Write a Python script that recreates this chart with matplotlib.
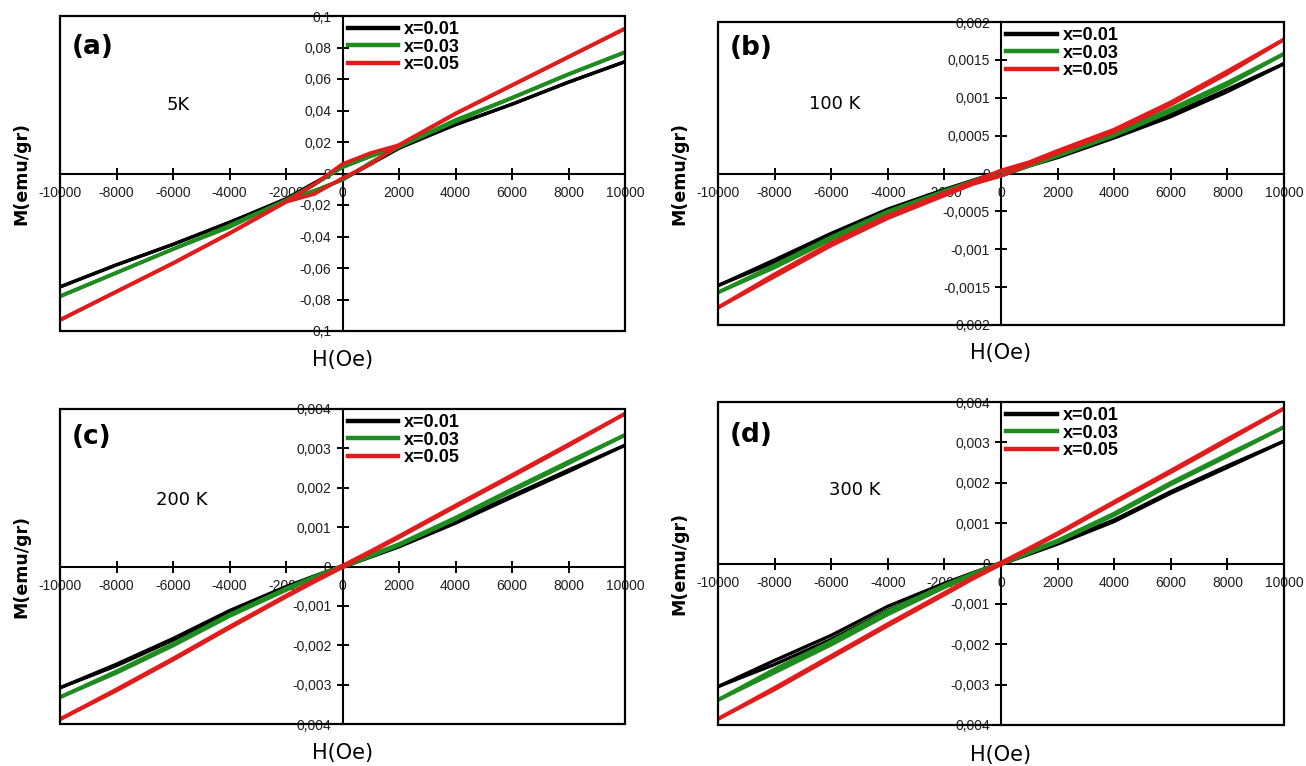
import matplotlib
matplotlib.use("Agg")
import matplotlib.pyplot as plt
from matplotlib.patches import Rectangle
from matplotlib.lines import Line2D

plt.rcParams['font.family'] = ['DejaVu Sans']

# ---------------- data ----------------
H = [-10000, -8000, -6000, -4000, -2000, -1000, 0, 1000, 2000, 4000, 6000, 8000, 10000]
series_labels = ["x=0.01", "x=0.03", "x=0.05"]
series_colors = ["#000000", "#1e8c1e", "#e01c1c"]
panel_letters = ["(a)", "(b)", "(c)", "(d)"]
panel_temps = ["5K", "100 K", "200 K", "300 K"]
x_ticks = [-10000, -8000, -6000, -4000, -2000, 0, 2000, 4000, 6000, 8000, 10000]
x_ticklabels = ["-10000", "-8000", "-6000", "-4000", "-2000", "0", "2000", "4000", "6000", "8000", "10000"]

# panel (a) 5 K : upper (descending field) and lower (ascending field) branches
a_black_up = [-0.072, -0.058, -0.045, -0.031, -0.016, -0.006, 0.004, 0.011, 0.017, 0.031, 0.044, 0.058, 0.071]
a_black_lo = [-0.072, -0.058, -0.045, -0.031, -0.017, -0.011, -0.004, 0.006, 0.016, 0.031, 0.044, 0.058, 0.071]
a_green_up = [-0.078, -0.063, -0.048, -0.033, -0.017, -0.007, 0.004, 0.011, 0.017, 0.034, 0.048, 0.063, 0.077]
a_green_lo = [-0.078, -0.063, -0.048, -0.034, -0.017, -0.011, -0.004, 0.007, 0.017, 0.033, 0.048, 0.063, 0.077]
a_red_up = [-0.093, -0.075, -0.057, -0.038, -0.018, -0.007, 0.006, 0.013, 0.018, 0.038, 0.056, 0.074, 0.092]
a_red_lo = [-0.093, -0.075, -0.057, -0.038, -0.018, -0.013, -0.003, 0.006, 0.018, 0.038, 0.056, 0.074, 0.092]

# panel (b) 100 K
b_black_up = [-0.00148, -0.00114, -0.00079, -0.00047, -0.00021, -0.00009, 0.00003, 0.00012, 0.00024, 0.00050, 0.00078, 0.00111, 0.00145]
b_black_lo = [-0.00148, -0.00117, -0.00082, -0.00050, -0.00024, -0.00012, -0.00003, 0.00010, 0.00021, 0.00047, 0.00075, 0.00108, 0.00145]
b_green_up = [-0.00157, -0.00121, -0.00084, -0.00050, -0.00023, -0.00010, 0.00003, 0.00013, 0.00026, 0.00053, 0.00085, 0.00120, 0.00158]
b_green_lo = [-0.00157, -0.00124, -0.00087, -0.00053, -0.00026, -0.00013, -0.00003, 0.00010, 0.00023, 0.00050, 0.00082, 0.00117, 0.00158]
b_red_up = [-0.00177, -0.00133, -0.00092, -0.00056, -0.00026, -0.00011, 0.00004, 0.00015, 0.00030, 0.00058, 0.00094, 0.00135, 0.00177]
b_red_lo = [-0.00177, -0.00136, -0.00095, -0.00059, -0.00029, -0.00014, -0.00003, 0.00012, 0.00027, 0.00055, 0.00091, 0.00132, 0.00177]

# panel (c) 200 K
c_black_up = [-0.00308, -0.00248, -0.00183, -0.00112, -0.00051, -0.00024, 0.00002, 0.00027, 0.00053, 0.00114, 0.00180, 0.00245, 0.00308]
c_black_lo = [-0.00308, -0.00252, -0.00187, -0.00116, -0.00055, -0.00027, -0.00002, 0.00024, 0.00050, 0.00110, 0.00176, 0.00241, 0.00308]
c_green_up = [-0.00332, -0.00266, -0.00197, -0.00122, -0.00056, -0.00026, 0.00002, 0.00029, 0.00057, 0.00124, 0.00196, 0.00266, 0.00334]
c_green_lo = [-0.00332, -0.00270, -0.00201, -0.00126, -0.00060, -0.00029, -0.00002, 0.00026, 0.00054, 0.00120, 0.00192, 0.00262, 0.00334]
c_red_up = [-0.00388, -0.00312, -0.00234, -0.00153, -0.00074, -0.00036, 0.00002, 0.00039, 0.00077, 0.00155, 0.00232, 0.00310, 0.00388]
c_red_lo = [-0.00388, -0.00315, -0.00237, -0.00156, -0.00077, -0.00039, -0.00002, 0.00036, 0.00074, 0.00152, 0.00229, 0.00307, 0.00388]

# panel (d) 300 K
d_black_up = [-0.00305, -0.00240, -0.00178, -0.00106, -0.00049, -0.00023, 0.00002, 0.00026, 0.00051, 0.00108, 0.00178, 0.00242, 0.00303]
d_black_lo = [-0.00305, -0.00250, -0.00188, -0.00116, -0.00055, -0.00027, -0.00002, 0.00023, 0.00048, 0.00104, 0.00174, 0.00238, 0.00303]
d_green_up = [-0.00338, -0.00262, -0.00193, -0.00118, -0.00054, -0.00025, 0.00002, 0.00029, 0.00057, 0.00124, 0.00200, 0.00270, 0.00338]
d_green_lo = [-0.00338, -0.00270, -0.00201, -0.00126, -0.00059, -0.00029, -0.00002, 0.00026, 0.00054, 0.00120, 0.00196, 0.00266, 0.00338]
d_red_up = [-0.00385, -0.00308, -0.00229, -0.00150, -0.00073, -0.00035, 0.00002, 0.00038, 0.00075, 0.00153, 0.00230, 0.00308, 0.00384]
d_red_lo = [-0.00385, -0.00312, -0.00233, -0.00154, -0.00077, -0.00038, -0.00002, 0.00035, 0.00072, 0.00150, 0.00226, 0.00304, 0.00384]

y_limits = [0.1, 0.002, 0.004, 0.004]
a_yticks = [0.1, 0.08, 0.06, 0.04, 0.02, 0, -0.02, -0.04, -0.06, -0.08, -0.1]
a_yticklabels = ["0,1", "0,08", "0,06", "0,04", "0,02", "0", "-0,02", "-0,04", "-0,06", "-0,08", "0,1"]
b_yticks = [0.002, 0.0015, 0.001, 0.0005, 0, -0.0005, -0.001, -0.0015, -0.002]
b_yticklabels = ["0,002", "0,0015", "0,001", "0,0005", "0", "-0,0005", "-0,001", "-0,0015", "0,002"]
cd_yticks = [0.004, 0.003, 0.002, 0.001, 0, -0.001, -0.002, -0.003, -0.004]
cd_yticklabels = ["0,004", "0,003", "0,002", "0,001", "0", "-0,001", "-0,002", "-0,003", "0,004"]

panel_data = [
    [(a_black_up, a_black_lo), (a_green_up, a_green_lo), (a_red_up, a_red_lo)],
    [(b_black_up, b_black_lo), (b_green_up, b_green_lo), (b_red_up, b_red_lo)],
    [(c_black_up, c_black_lo), (c_green_up, c_green_lo), (c_red_up, c_red_lo)],
    [(d_black_up, d_black_lo), (d_green_up, d_green_lo), (d_red_up, d_red_lo)],
]
panel_yticks = [(a_yticks, a_yticklabels), (b_yticks, b_yticklabels),
                (cd_yticks, cd_yticklabels), (cd_yticks, cd_yticklabels)]

# ---------------- layout (pixel boxes -> figure fractions) ----------------
W, Hpx = 1306.0, 766.0
boxes_px = [(60, 16, 625, 331), (718, 22, 1284, 325), (60, 409, 625, 724), (718, 402, 1284, 725)]
temp_pos = [(0.209, 0.717), (0.207, 0.729), (0.216, 0.711), (0.242, 0.728)]
letter_y = [0.90, 0.914, 0.911, 0.898]

fig = plt.figure(figsize=(13.06, 7.66), dpi=100)
fig.patch.set_facecolor("white")

for i in range(4):
    l, t, r, b = boxes_px[i]
    ax = fig.add_axes([l / W, 1 - b / Hpx, (r - l) / W, (b - t) / Hpx])
    ylim = y_limits[i]
    ax.set_xlim(-10000, 10000)
    ax.set_ylim(-ylim, ylim)

    for (up, lo), col in zip(panel_data[i], series_colors):
        lw = 2.7 if col != "#000000" else 2.4
        ax.plot(H, up, color=col, lw=lw, solid_capstyle="butt", solid_joinstyle="round", zorder=3)
        ax.plot(H, lo, color=col, lw=lw, solid_capstyle="butt", solid_joinstyle="round", zorder=3)

    # centred axes
    ax.spines["left"].set_position(("data", 0))
    ax.spines["bottom"].set_position(("data", 0))
    ax.spines["top"].set_visible(False)
    ax.spines["right"].set_visible(False)
    for s in ("left", "bottom"):
        ax.spines[s].set_linewidth(1.5)
        ax.spines[s].set_zorder(2)
    ax.add_patch(Rectangle((0, 0), 1, 1, transform=ax.transAxes, fill=False,
                           lw=1.6, ec="black", clip_on=False, zorder=4))

    ax.set_xticks(x_ticks)
    ax.set_xticklabels(x_ticklabels)
    yt, ytl = panel_yticks[i]
    ax.set_yticks(yt)
    ax.set_yticklabels(ytl)
    ax.tick_params(direction="inout", length=8, width=1.4, labelcolor="#1e1e1e")
    ax.tick_params(axis="x", pad=5)
    ax.tick_params(axis="y", pad=4)
    for lab in ax.get_xticklabels() + ax.get_yticklabels():
        lab.set_fontfamily("Liberation Sans")
        lab.set_fontsize(10)

    # legend
    handles = [Line2D([], [], color=c, lw=3.2) for c in series_colors]
    leg = ax.legend(handles, series_labels, loc="upper left", bbox_to_anchor=(0.5, 1.0),
                    frameon=False, handlelength=2.8, handletextpad=0.3,
                    borderaxespad=0.0, borderpad=0.3, labelspacing=0.02,
                    prop={"family": "Liberation Sans", "weight": "bold", "size": 13})
    leg.set_zorder(5)

    ax.text(0.02, letter_y[i], panel_letters[i], transform=ax.transAxes, fontsize=19,
            fontweight="bold", ha="left", va="center")
    ax.text(temp_pos[i][0], temp_pos[i][1], panel_temps[i], transform=ax.transAxes,
            fontsize=13, ha="center", va="center")
    ax.text(0.5, -0.092, "H(Oe)", transform=ax.transAxes, fontsize=15,
            ha="center", va="center")
    ax.text(-0.068, 0.5, "M(emu/gr)", transform=ax.transAxes, fontsize=12.5,
            fontweight="bold", rotation=90, ha="center", va="center")

fig.savefig("out.png", dpi=100, facecolor="white")
